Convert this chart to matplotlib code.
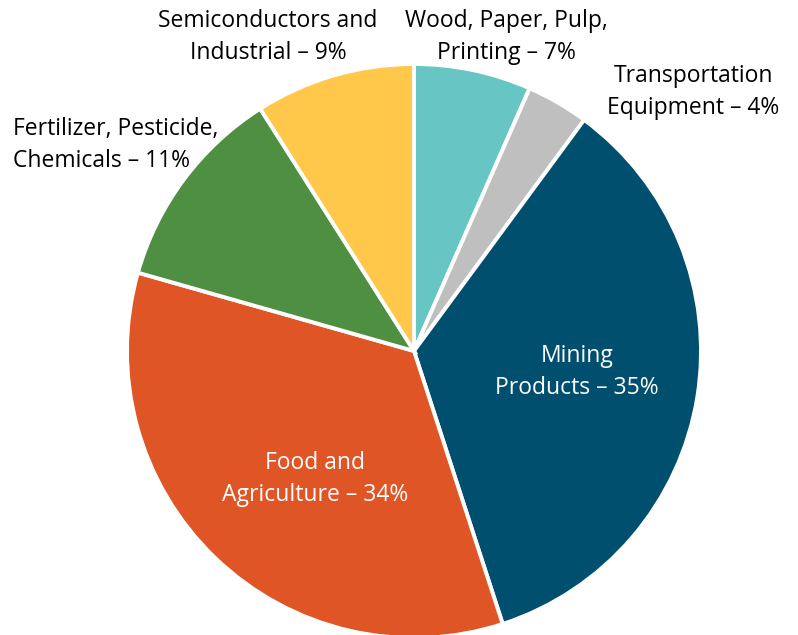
import matplotlib
matplotlib.use("Agg")
import matplotlib.pyplot as plt

categories = ["Wood, Paper, Pulp,\nPrinting", "Transportation\nEquipment", "Mining\nProducts",
              "Food and\nAgriculture", "Fertilizer, Pesticide,\nChemicals", "Semiconductors and\nIndustrial"]
label_pct = [7, 4, 35, 34, 11, 9]
# wedge sizes (labels show rounded values)
shares = [6.6, 3.5, 34.9, 34.4, 11.6, 9.0]
colors = ["#67C6C4", "#BFBFBF", "#004F6E", "#E05526", "#4E8F41", "#FFC84A"]

plt.rcParams['font.family'] = ['Open Sans', 'DejaVu Sans']

W, H = 798, 635
fig = plt.figure(figsize=(W / 100, H / 100), dpi=100)
ax = fig.add_axes([0, 0, 1, 1])

ax.pie(shares, colors=colors, startangle=90, counterclock=False,
       center=(414, H - 351), radius=287,
       wedgeprops=dict(edgecolor='white', linewidth=2.8))
ax.set_xlim(0, W)
ax.set_ylim(0, H)
ax.set_aspect('equal')
ax.axis('off')

labels = [f"{c} – {v}%" for c, v in zip(categories, label_pct)]
pos = [(506, 37, 'center', 'black'),
       (693, 92, 'center', 'black'),
       (577, 372, 'center', 'white'),
       (315, 479, 'center', 'white'),
       (13, 145, 'left', 'black'),
       (268, 37, 'center', 'black')]
for lab, (x, y, ha, col) in zip(labels, pos):
    ax.text(x, H - y, lab, ha=ha, va='center', multialignment=ha,
            fontsize=16.5, color=col, linespacing=1.42)

fig.savefig("out.png", dpi=100)
